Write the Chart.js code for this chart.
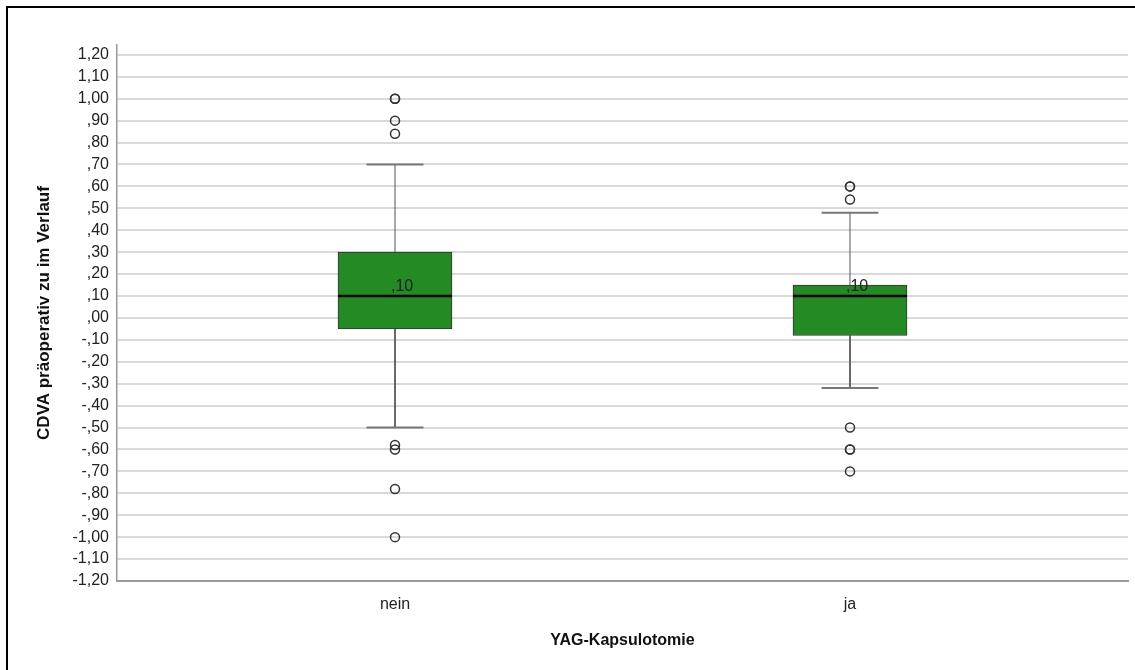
<!DOCTYPE html>
<html>
<head>
  <meta charset="utf-8" />
  <title>YAG-Kapsulotomie Boxplot</title>
  <script src="https://cdn.jsdelivr.net/npm/chart.js"></script>
  <style>
    body { margin: 0; background: #fff; }
    #frame { position: absolute; left: 6px; top: 6px; right: 0; bottom: 0; border-top: 2px solid #000; border-left: 2px solid #000; }
    #wrap { position: absolute; left: 0; top: 0; width: 1135px; height: 670px; }
  </style>
</head>
<body>
  <div id="frame"></div>
  <div id="wrap"><canvas id="chart"></canvas></div>

  <script>
    // Groups and box statistics
    const categories = ['nein', 'ja'];
    const q1 = [-0.05, -0.08];
    const q3 = [0.30, 0.15];
    const medians = [0.10, 0.10];
    const whiskerLow = [-0.50, -0.32];
    const whiskerHigh = [0.70, 0.48];
    // outliers per group (duplicates drawn twice, like the bold circles)
    const outliersNein = [1.00, 1.00, 0.90, 0.84, -0.58, -0.60, -0.78, -1.00];
    const outliersJa = [0.60, 0.60, 0.54, -0.50, -0.60, -0.60, -0.70];
    // y tick labels
    const yTicks = [-1.2, -1.1, -1.0, -0.9, -0.8, -0.7, -0.6, -0.5, -0.4, -0.3, -0.2, -0.1,
                    0, 0.1, 0.2, 0.3, 0.4, 0.5, 0.6, 0.7, 0.8, 0.9, 1.0, 1.1, 1.2];

    const boxHalf = 0.125;   // half box width in category units
    const capHalf = 0.0625;

    // german style, leading zero dropped: -,10  ,00  1,20
    function fmt(v) {
      const a = Math.abs(v);
      const s = a.toFixed(2).replace('.', ',');
      const t = a < 1 ? s.slice(1) : s;
      return (v < -1e-9 ? '-' : '') + t;
    }

    const boxes = categories.map((c, i) => ({ x: i, y: [q1[i], q3[i]] }));
    const whiskers = [];
    const caps = [];
    const medianLines = [];
    categories.forEach((c, i) => {
      whiskers.push({ x: i, y: q3[i] }, { x: i, y: whiskerHigh[i] }, { x: i, y: null });
      whiskers.push({ x: i, y: q1[i] }, { x: i, y: whiskerLow[i] }, { x: i, y: null });
      caps.push({ x: i - capHalf, y: whiskerHigh[i] }, { x: i + capHalf, y: whiskerHigh[i] }, { x: i, y: null });
      caps.push({ x: i - capHalf, y: whiskerLow[i] }, { x: i + capHalf, y: whiskerLow[i] }, { x: i, y: null });
      medianLines.push({ x: i - boxHalf, y: medians[i] }, { x: i + boxHalf, y: medians[i] }, { x: i, y: null });
    });
    const outliers = outliersNein.map(v => ({ x: 0, y: v }))
      .concat(outliersJa.map(v => ({ x: 1, y: v })));

    // median value labels above the median line
    const medianLabels = {
      id: 'medianLabels',
      afterDatasetsDraw(chart) {
        const { ctx, scales: { x, y } } = chart;
        ctx.save();
        ctx.font = '16px "Liberation Sans", Arial, sans-serif';
        ctx.fillStyle = '#222';
        ctx.textAlign = 'left';
        ctx.textBaseline = 'alphabetic';
        medians.forEach((m, i) => {
          ctx.fillText(fmt(m), x.getPixelForValue(i) - 4, y.getPixelForValue(m) - 5);
        });
        ctx.restore();
      }
    };

    const font = { family: '"Liberation Sans", Arial, sans-serif', size: 16 };

    new Chart(document.getElementById('chart'), {
      type: 'bar',
      data: {
        datasets: [
          {
            type: 'bar',
            data: boxes,
            backgroundColor: '#248a24',
            borderColor: '#333',
            borderWidth: 1,
            borderSkipped: false,
            barThickness: 114,
            order: 3
          },
          {
            type: 'line',
            data: whiskers,
            borderColor: '#555',
            borderWidth: 1,
            pointRadius: 0,
            spanGaps: false,
            order: 4
          },
          {
            type: 'line',
            data: caps,
            borderColor: '#777',
            borderWidth: 2,
            pointRadius: 0,
            spanGaps: false,
            order: 2
          },
          {
            type: 'line',
            data: medianLines,
            borderColor: '#000',
            borderWidth: 2.5,
            pointRadius: 0,
            spanGaps: false,
            order: 1
          },
          {
            type: 'scatter',
            data: outliers,
            pointRadius: 4.5,
            pointBackgroundColor: 'rgba(255,255,255,0)',
            pointBorderColor: '#333',
            pointBorderWidth: 1.5,
            order: 0
          }
        ]
      },
      options: {
        responsive: true,
        maintainAspectRatio: false,
        animation: false,
        layout: { padding: { top: 45, right: 7, left: 0, bottom: 0 } },
        plugins: { legend: { display: false }, tooltip: { enabled: false } },
        scales: {
          x: {
            type: 'linear',
            offset: false,
            min: -0.611,
            max: 1.611,
            afterBuildTicks: s => { s.ticks = categories.map((c, i) => ({ value: i })); },
            afterFit: s => { s.height = 89; },
            grid: { display: false, drawTicks: false },
            border: { display: true, color: '#999', width: 2 },
            ticks: {
              padding: 14,
              color: '#222',
              font: font,
              callback: v => categories[v]
            },
            title: {
              display: true,
              text: 'YAG-Kapsulotomie',
              color: '#111',
              font: { family: font.family, size: 16, weight: 'bold' },
              padding: { top: 0, bottom: 20 }
            }
          },
          y: {
            min: -1.2,
            max: 1.245,
            afterBuildTicks: s => { s.ticks = yTicks.map(v => ({ value: v })); },
            afterFit: s => { s.width = 117; },
            grid: { color: '#d9d9d9', lineWidth: 2, drawTicks: false },
            border: { display: true, color: '#999', width: 1.5 },
            ticks: {
              padding: 8,
              color: '#222',
              font: font,
              callback: v => fmt(v)
            },
            title: {
              display: true,
              text: 'CDVA präoperativ zu im Verlauf',
              color: '#111',
              font: { family: font.family, size: 17, weight: 'bold' },
              padding: { top: 34, bottom: 0 }
            }
          }
        }
      },
      plugins: [medianLabels]
    });
  </script>
</body>
</html>
